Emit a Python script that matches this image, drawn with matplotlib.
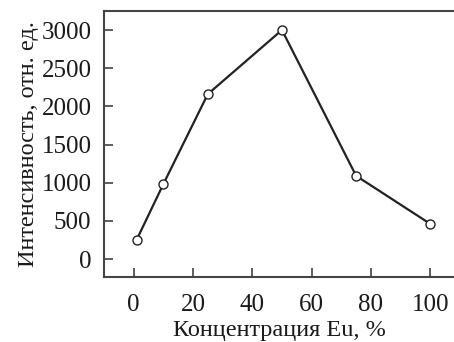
import matplotlib.pyplot as plt

# data
conc = [1, 10, 25, 50, 75, 100]
intensity = [250, 980, 2160, 3000, 1090, 460]
xticks = [0, 20, 40, 60, 80, 100]
yticks = [0, 500, 1000, 1500, 2000, 2500, 3000]

plt.rcParams["font.family"] = ["Liberation Serif", "DejaVu Serif"]

fig = plt.figure(figsize=(4.54, 3.42), dpi=100)
ax = fig.add_axes([0.229, 0.190, 0.771, 0.778])

ax.plot(conc, intensity, color="#222222", linewidth=1.6,
        marker="o", markersize=6.5, markerfacecolor="white",
        markeredgecolor="#222222", markeredgewidth=1.0, zorder=3)

ax.set_xlim(-10, 108)
ax.set_ylim(-236, 3250)
ax.set_xticks(xticks)
ax.set_yticks(yticks)

ax.tick_params(direction="in", length=6.5, width=1.1, colors="#333333",
               labelsize=18, labelcolor="#1a1a1a", pad=9)
ax.tick_params(axis="x", pad=12)

for side in ["left", "bottom", "top"]:
    ax.spines[side].set_linewidth(1.5)
    ax.spines[side].set_color("#444444")
ax.spines["right"].set_visible(False)

ax.set_xlabel("Концентрация Eu, %", fontsize=17.5, color="#1a1a1a", labelpad=3)
ax.set_ylabel("Интенсивность, отн. ед.", fontsize=17.5, color="#1a1a1a", labelpad=2)

plt.savefig("out.png", dpi=100)
